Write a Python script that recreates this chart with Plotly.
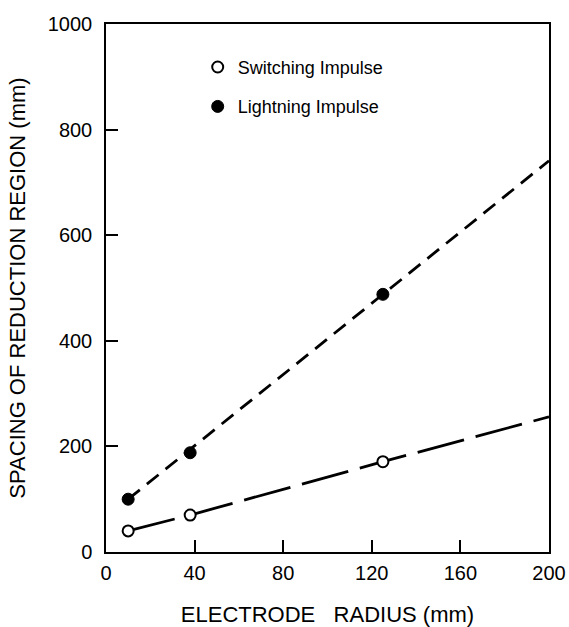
import plotly.graph_objects as go

# Data
si_x = [10, 38, 125]
si_y = [40, 70, 171]
li_x = [10, 38, 125]
li_y = [100, 188, 488]
si_fit_x = [10, 38, 125, 200]
si_fit_y = [40, 70, 171, 256]
li_fit_x = [10, 200]
li_fit_y = [100, 741]
x_ticks = [0, 40, 80, 120, 160, 200]
y_ticks = [0, 200, 400, 600, 800, 1000]

FONT = "Liberation Sans, Arial, sans-serif"

fig = go.Figure()
fig.add_trace(go.Scatter(x=si_fit_x, y=si_fit_y, mode="lines",
                         line=dict(color="black", width=2.8, dash="48px,12px"),
                         showlegend=False, hoverinfo="skip"))
fig.add_trace(go.Scatter(x=li_fit_x, y=li_fit_y, mode="lines",
                         line=dict(color="black", width=2.8, dash="15px,9px"),
                         showlegend=False, hoverinfo="skip"))
fig.add_trace(go.Scatter(x=si_x, y=si_y, mode="markers", name="Switching Impulse",
                         legendgroup="a",
                         marker=dict(symbol="circle", size=11, color="white",
                                     line=dict(color="black", width=2))))
fig.add_trace(go.Scatter(x=li_x, y=li_y, mode="markers", name="Lightning Impulse",
                         legendgroup="b",
                         marker=dict(symbol="circle", size=12, color="black",
                                     line=dict(color="black", width=1))))

fig.update_layout(
    width=569, height=627,
    margin=dict(l=106, r=20, t=24, b=75),
    paper_bgcolor="white", plot_bgcolor="white",
    font=dict(family=FONT, color="black", size=18),
    legend=dict(x=0.207, y=0.953, xanchor="left", yanchor="top",
                font=dict(size=18), tracegroupgap=13, traceorder="grouped",
                bgcolor="rgba(0,0,0,0)", itemwidth=30),
    xaxis=dict(range=[0, 200], tickvals=x_ticks, ticks="inside", ticklen=12,
               tickwidth=1.5, tickcolor="black", showline=True, linecolor="black",
               linewidth=1.5, mirror=True, showgrid=False, zeroline=False,
               tickfont=dict(size=20), ticklabelstandoff=2, automargin=False,
               title=dict(text="ELECTRODE   RADIUS (mm)", font=dict(size=22), standoff=32)),
    yaxis=dict(range=[0, 1000], tickvals=y_ticks, ticks="inside", ticklen=12,
               tickwidth=1.5, tickcolor="black", showline=True, linecolor="black",
               linewidth=1.5, mirror=True, showgrid=False, zeroline=False,
               tickfont=dict(size=20), ticklabelstandoff=8, automargin=False,
               title=dict(text="SPACING OF REDUCTION REGION (mm)", font=dict(size=22), standoff=16)),
)

fig.write_html("out.html", config={"displayModeBar": False},
               post_script="document.body.style.margin='0';")
